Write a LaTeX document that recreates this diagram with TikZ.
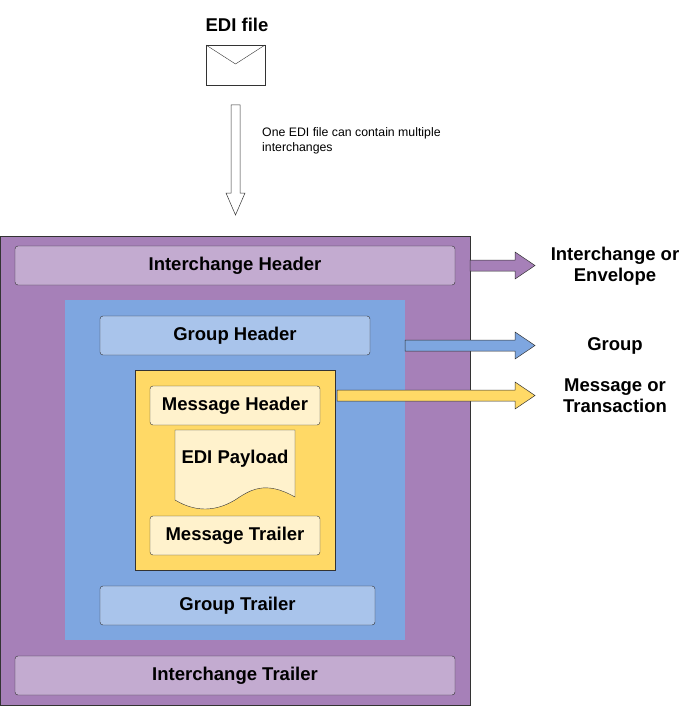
\documentclass[tikz,border=0pt]{standalone}
\usepackage{fontspec}
\setmainfont{Liberation Sans}
\usetikzlibrary{positioning,shapes.arrows}
\definecolor{ichg}{HTML}{A680B8}
\definecolor{ichgl}{HTML}{C3ABD0}
\definecolor{grp}{HTML}{7EA6E0}
\definecolor{grpl}{HTML}{A9C4EB}
\definecolor{msg}{HTML}{FFD966}
\definecolor{msgl}{HTML}{FFF2CC}
\tikzset{
  seg/.style={draw=black!80, rounded corners=3pt, font=\bfseries\fontsize{18.5}{21}\selectfont, inner sep=0pt},
  lbl/.style={font=\bfseries\fontsize{18.5}{21}\selectfont, align=center},
  fat/.style={draw=black!80, line width=0.5pt}
}
\begin{document}
\begin{tikzpicture}[x=1pt,y=-1pt]
    \useasboundingbox (0,0) rectangle (696,706);

    % file and hollow arrow
    \node[lbl] (file) at (237,25) {EDI file};
    \draw[fill=white,draw=black!80] (206,45) rectangle (265,85);
    \draw[draw=black!80] (206,45) -- (235.5,64) -- (265,45);
    \draw[fat,fill=white] (231,105) -- (240,105) -- (240,193) -- (245,193) -- (235.5,215)
      -- (226,193) -- (231,193) -- cycle;
    \node[font=\fontsize{12.3}{15}\selectfont, align=left, anchor=north west, inner sep=0pt] (note) at (262,127)
      {One EDI file can contain multiple\\interchanges};

    % nested boxes
    \draw[draw=black!80,fill=ichg] (0,236) rectangle (470,705);
    \node[seg,fill=ichgl,minimum width=440pt,minimum height=39pt] (ih) at (235,265.5) {Interchange Header};
    \node[seg,fill=ichgl,minimum width=440pt,minimum height=39pt] (it) at (235,675.5) {Interchange Trailer};
    \fill[grp] (65,300) rectangle (405,640);
    \node[seg,fill=grpl,minimum width=270pt,minimum height=39pt] (gh) at (235,335.5) {Group Header};
    \node[seg,fill=grpl,minimum width=275pt,minimum height=39pt] (gt) at (237.5,605.5) {Group Trailer};
    \draw[draw=black!80,fill=msg] (135,370) rectangle (335,570);
    \node[seg,fill=msgl,minimum width=170pt,minimum height=39pt] (mh) at (235,405.5) {Message Header};
    \node[seg,fill=msgl,minimum width=170pt,minimum height=39pt] (mt) at (235,535.5) {Message Trailer};
    \draw[draw=black!80,fill=msgl] (175,430) -- (295,430) -- (295,497)
      .. controls (265,480) and (250,490) .. (235,500)
      .. controls (215,512) and (195,512) .. (175,500) -- cycle;
    \node[lbl] (pay) at (235,459) {EDI Payload};

    % block arrows and labels
    \draw[fat,fill=ichg] (470,260) -- (515,260) -- (515,252) -- (535,265.5) -- (515,279)
      -- (515,271) -- (470,271) -- cycle;
    \draw[fat,fill=grp] (405,340) -- (515,340) -- (515,332) -- (535,345.5) -- (515,359)
      -- (515,351) -- (405,351) -- cycle;
    \draw[fat,fill=msg] (337,390) -- (515,390) -- (515,382) -- (535,395.5) -- (515,409)
      -- (515,401) -- (337,401) -- cycle;
    \node[lbl] (lic) at (615,266) {Interchange or\\Envelope};
    \node[lbl] (lgr) at (615,346) {Group};
    \node[lbl] (lms) at (615,396) {Message or\\Transaction};
\end{tikzpicture}
\end{document}
